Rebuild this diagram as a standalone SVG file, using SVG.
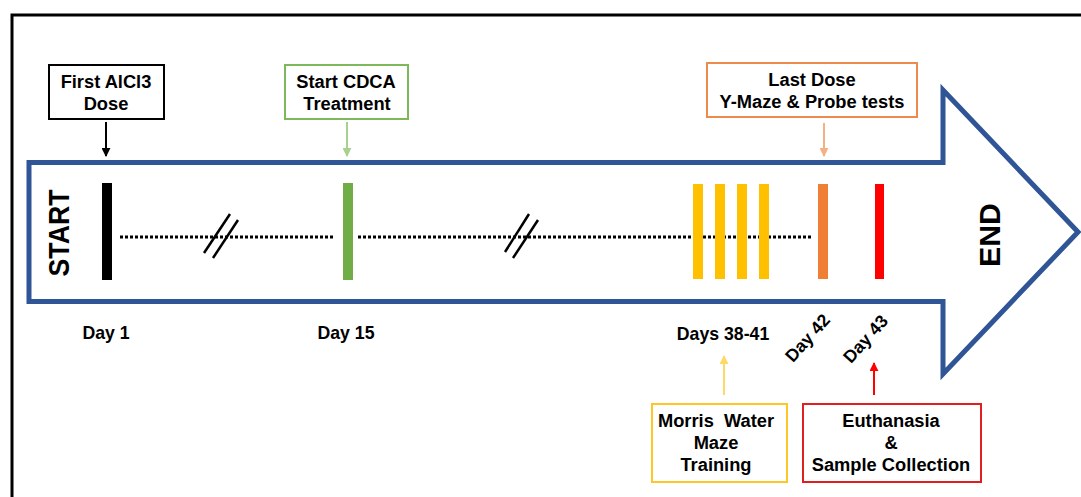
<svg xmlns="http://www.w3.org/2000/svg" width="1081" height="497" viewBox="0 0 1081 497">
<defs>
<style>
text{font-family:"Liberation Sans",Arial,sans-serif;font-weight:bold;fill:#000;}
.lbl{font-size:17.7px;text-anchor:middle;}
.bx{font-size:18.3px;text-anchor:middle;}
.big{font-size:29px;text-anchor:middle;}
.box{fill:#fff;stroke-width:2;}
.tick{stroke:none;}
.dot{stroke:#000;stroke-width:3;stroke-dasharray:3,2;fill:none;}
.brk{stroke:#000;stroke-width:2.5;}
</style>
<marker id="ahK" viewBox="0 0 10 10" refX="9" refY="5" markerWidth="4.5" markerHeight="4.5" orient="auto"><path d="M0,0 L10,5 L0,10 Z" fill="#000"/></marker>
<marker id="ahG" viewBox="0 0 10 10" refX="9" refY="5" markerWidth="4.5" markerHeight="4.5" orient="auto"><path d="M0,0 L10,5 L0,10 Z" fill="#A9D18E"/></marker>
<marker id="ahO" viewBox="0 0 10 10" refX="9" refY="5" markerWidth="4.5" markerHeight="4.5" orient="auto"><path d="M0,0 L10,5 L0,10 Z" fill="#F4B183"/></marker>
<marker id="ahY" viewBox="0 0 10 10" refX="9" refY="5" markerWidth="4.5" markerHeight="4.5" orient="auto"><path d="M0,0 L10,5 L0,10 Z" fill="#FFD966"/></marker>
<marker id="ahR" viewBox="0 0 10 10" refX="9" refY="5" markerWidth="4.5" markerHeight="4.5" orient="auto"><path d="M0,0 L10,5 L0,10 Z" fill="#FF0000"/></marker>
</defs>
<rect width="1081" height="497" fill="#fff"/>
<g id="frame">
<path d="M12,500 L12,15 L1085,15" fill="none" stroke="#000" stroke-width="3"/>
</g>
<g id="timeline-arrow">
<path d="M29,162.5 L943,162.5 L943,90 L1078,232 L943,374 L943,301.5 L29,301.5 Z" fill="#fff" stroke="#2F5597" stroke-width="5" stroke-linejoin="miter"/>
<text class="big" transform="translate(69,233) rotate(-90)" textLength="87" lengthAdjust="spacingAndGlyphs">START</text>
<text class="big" transform="translate(1000,235) rotate(-90)" font-size="31" textLength="64" lengthAdjust="spacingAndGlyphs">END</text>
</g>
<g id="timeline-line">
<line class="dot" x1="120" y1="237" x2="334" y2="237"/>
<line class="dot" x1="358" y1="237" x2="812" y2="237"/>
<line class="brk" x1="204" y1="253" x2="230" y2="214"/>
<line class="brk" x1="213" y1="258" x2="238" y2="220"/>
<line class="brk" x1="505" y1="252" x2="529" y2="214"/>
<line class="brk" x1="513" y1="258" x2="538" y2="220"/>
</g>
<g id="ticks">
<rect class="tick" x="102" y="183" width="10" height="97" fill="#000"/>
<rect class="tick" x="343" y="183" width="10" height="97" fill="#70AD47" stroke="#5E9A3A" stroke-width="0.8"/>
<rect class="tick" x="693" y="184" width="10" height="95" fill="#FFC000" stroke="#E6A800" stroke-width="0.8"/>
<rect class="tick" x="715" y="184" width="10" height="95" fill="#FFC000" stroke="#E6A800" stroke-width="0.8"/>
<rect class="tick" x="737" y="184" width="10" height="95" fill="#FFC000" stroke="#E6A800" stroke-width="0.8"/>
<rect class="tick" x="759" y="184" width="10" height="95" fill="#FFC000" stroke="#E6A800" stroke-width="0.8"/>
<rect class="tick" x="818" y="184" width="10" height="95" fill="#EE7F35"/>
<rect class="tick" x="875" y="184" width="9" height="95" fill="#FF0000" stroke="#7A2A5A" stroke-width="1"/>
</g>
<g id="day-labels">
<text class="lbl" x="106" y="339">Day 1</text>
<text class="lbl" x="346" y="339">Day 15</text>
<text class="lbl" x="723" y="340">Days 38-41</text>
<text class="lbl" transform="translate(812,342) rotate(-48)">Day 42</text>
<text class="lbl" transform="translate(870,343) rotate(-48)">Day 43</text>
</g>
<g id="node-first-dose">
<rect class="box" x="49" y="65" width="115" height="54" stroke="#000"/>
<text class="bx" x="106" y="88">First AlCl3</text>
<text class="bx" x="106" y="110">Dose</text>
</g>
<g id="node-start-cdca">
<rect class="box" x="285" y="65" width="123" height="54" stroke="#7DB85B"/>
<text class="bx" x="346" y="88">Start CDCA</text>
<text class="bx" x="347" y="110">Treatment</text>
</g>
<g id="node-last-dose">
<rect class="box" x="707" y="63" width="210" height="54" stroke="#ED8A4C"/>
<text class="bx" x="812" y="86">Last Dose</text>
<text class="bx" x="812" y="108">Y-Maze &amp; Probe tests</text>
</g>
<g id="node-morris">
<rect class="box" x="652" y="404" width="135" height="78" stroke="#FFC62A"/>
<text class="bx" x="716" y="427" xml:space="preserve">Morris  Water</text>
<text class="bx" x="716" y="449">Maze</text>
<text class="bx" x="716" y="471">Training</text>
</g>
<g id="node-euthanasia">
<rect class="box" x="803" y="404" width="178" height="78" stroke="#E02020"/>
<text class="bx" x="891" y="427">Euthanasia</text>
<text class="bx" x="891" y="449">&amp;</text>
<text class="bx" x="891" y="471">Sample Collection</text>
</g>
<g id="connectors" fill="none" stroke-width="2">
<line x1="106" y1="122" x2="106" y2="156" stroke="#000" marker-end="url(#ahK)"/>
<line x1="347" y1="122" x2="347" y2="156" stroke="#A9D18E" marker-end="url(#ahG)"/>
<line x1="824" y1="123" x2="824" y2="156" stroke="#F4B183" marker-end="url(#ahO)"/>
<line x1="724" y1="395" x2="724" y2="356" stroke="#FFD966" marker-end="url(#ahY)"/>
<line x1="874" y1="395" x2="874" y2="363" stroke="#FF0000" marker-end="url(#ahR)"/>
</g>
</svg>
